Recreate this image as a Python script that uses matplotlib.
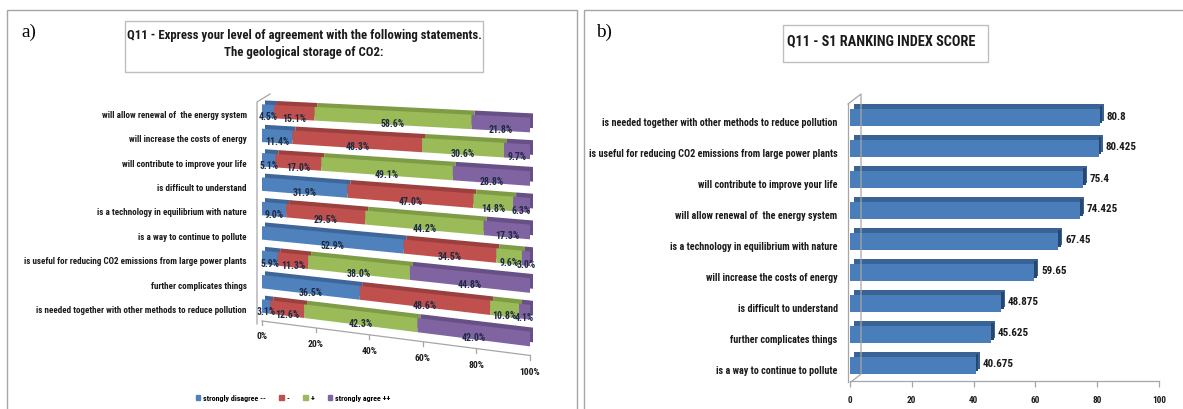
import numpy as np
import matplotlib
matplotlib.use("Agg")
import matplotlib.pyplot as plt
from matplotlib.transforms import Transform, Affine2D
from matplotlib.patches import Rectangle
from matplotlib.lines import Line2D

# ---------------- data ----------------
statements_a = [
    "will allow renewal of  the energy system",
    "will increase the costs of energy",
    "will contribute to improve your life",
    "is difficult to understand",
    "is a technology in equilibrium with nature",
    "is a way to continue to pollute",
    "is useful for reducing CO2 emissions from large power plants",
    "further complicates things",
    "is needed together with other methods to reduce pollution",
]
strongly_disagree = [4.5, 11.4, 5.1, 31.9, 9.0, 52.9, 5.9, 36.5, 3.1]
disagree = [15.1, 48.3, 17.0, 47.0, 29.5, 34.5, 11.3, 48.6, 12.6]
agree = [58.6, 30.6, 49.1, 14.8, 44.2, 9.6, 38.0, 10.8, 42.3]
strongly_agree = [21.8, 9.7, 28.8, 6.3, 17.3, 3.0, 44.8, 4.1, 42.0]
series_names = ["strongly disagree --", "-", "+", "strongly agree ++"]
pct_ticks = [0, 20, 40, 60, 80, 100]

statements_b = [
    "is needed together with other methods to reduce pollution",
    "is useful for reducing CO2 emissions from large power plants",
    "will contribute to improve your life",
    "will allow renewal of  the energy system",
    "is a technology in equilibrium with nature",
    "will increase the costs of energy",
    "is difficult to understand",
    "further complicates things",
    "is a way to continue to pollute",
]
ranking_scores = [80.8, 80.425, 75.4, 74.425, 67.45, 59.65, 48.875, 45.625, 40.675]
score_ticks = [0, 20, 40, 60, 80, 100]

title_a1 = "Q11 - Express your level of agreement with the following statements."
title_a2 = "The geological storage of CO2:"
title_b = "Q11 - S1 RANKING INDEX SCORE"

# ---------------- styling ----------------
W, H, DPI = 1183, 410, 100
plt.rcParams["font.family"] = ["Roboto Condensed", "Liberation Sans Narrow", "Liberation Sans", "DejaVu Sans"]
colors = ["#4F81BD", "#C0504D", "#9BBB59", "#8064A2"]
dark = ["#3F6699", "#9A403E", "#7E9B45", "#675085"]
txt = "#1A1A1A"
gridc = "#A6A6A6"
GROW = 1.08


class Persp(Transform):
    """Fake 3-D perspective in display space: rows slope down to the right."""
    input_dims = 2
    output_dims = 2
    is_separable = False
    has_inverse = False

    def __init__(self, x0, x1, ytop, ybot, dtop, dbot, height):
        super().__init__()
        self.p = (x0, x1, ytop, ybot, dtop, dbot, height)

    def transform_non_affine(self, values):
        x0, x1, ytop, ybot, dtop, dbot, h = self.p
        v = np.array(values, dtype=float, copy=True)
        X = v[..., 0]
        yi = h - v[..., 1]
        u = (X - x0) / (x1 - x0)
        drop = dtop + (yi - ytop) * (dbot - dtop) / (ybot - ytop)
        v[..., 1] = h - (yi + u * drop)
        return v


fig = plt.figure(figsize=(W / DPI, H / DPI), dpi=DPI)
renderer = fig.canvas.get_renderer()


def fit_size(s, target_px, weight="bold", family=None, grow=GROW):
    kw = {"fontsize": 10, "fontweight": weight}
    if family:
        kw["family"] = family
    t = fig.text(0, 0, s, **kw)
    w = t.get_window_extent(renderer).width
    t.remove()
    return grow * 10 * target_px / w


fs_lab_a = fit_size(statements_a[0], 142, grow=1.01)
fs_lab_b = fit_size(statements_b[1], 246, grow=1.01)
fs_title_a = fit_size(title_a1, 343, grow=1.03)
fs_title_b = fit_size(title_b, 182, grow=1.03)
fs_leg = fit_size(series_names[0], 58)
fs_dl = fit_size("58.6%", 22)
fs_val = fit_size("80.425", 30, grow=1.04)
fs_xb = fit_size("100", 13)
fs_xa = fit_size("100%", 19)
fs_ab = fit_size("a)", 15, weight="normal", family="Liberation Serif", grow=1.0)

pix = Affine2D().scale(1, -1).translate(0, H)  # image pixel coords -> display

# panel frames
fig.patches.append(Rectangle((7, 11), 570, 420, fill=False, ec=gridc, lw=1, transform=pix))
fig.patches.append(Rectangle((584, 11), 620, 420, fill=False, ec=gridc, lw=1, transform=pix))
fig.text(21, 32, "a)", transform=pix, family="Liberation Serif", fontsize=fs_ab, va="center", ha="left")
fig.text(596, 32, "b)", transform=pix, family="Liberation Serif", fontsize=fs_ab, va="center", ha="left")

# title boxes
fig.patches.append(Rectangle((125, 22), 358, 51, fill=False, ec="#BFBFBF", lw=1, transform=pix))
fig.text(304, 36, title_a1, transform=pix, ha="center", va="center", fontsize=fs_title_a,
         fontweight="bold", color=txt)
fig.text(304, 53, title_a2, transform=pix, ha="center", va="center", fontsize=fs_title_a,
         fontweight="bold", color=txt)
fig.patches.append(Rectangle((783, 26), 205, 37, fill=False, ec="#BFBFBF", lw=1, transform=pix))
fig.text(881, 41, title_b, transform=pix, ha="center", va="center", fontsize=fs_title_b,
         fontweight="bold", color=txt)

# ---------------- panel a ----------------
row_h = 24.375
axL = fig.add_axes([262 / W, (H - (307 + 0.5 * row_h)) / H, 268 / W, 9 * row_h / H])
ypos = np.arange(len(statements_a))[::-1]
persp = Persp(262, 530, 112, 307, 14, 33, H)
front_T = axL.transData + persp
shadow_T = axL.transData + Affine2D().translate(3, 4) + persp

series = [strongly_disagree, disagree, agree, strongly_agree]
left = np.zeros(len(ypos))
proxies = []
for vals, name, c, d in zip(series, series_names, colors, dark):
    vals = np.array(vals)
    sh = axL.barh(ypos, vals, left=left, height=0.55, color=d, edgecolor="none", zorder=1)
    for p in sh.patches:
        p.set_transform(shadow_T)
        p.set_clip_on(False)
    fr = axL.barh(ypos, vals, left=left, height=0.55, color=c, edgecolor="none", zorder=2)
    for p in fr.patches:
        p.set_transform(front_T)
        p.set_clip_on(False)
    for y, l, v in zip(ypos, left, vals):
        axL.text(l + v / 2, y - 0.2, f"{v:.1f}%", transform=front_T, ha="center", va="center",
                 fontsize=fs_dl, fontweight="bold", color="#1F2A44", zorder=5, clip_on=False)
    proxies.append(Rectangle((0, 0), 1, 1, color=c))
    left = left + vals
axL.set_xlim(0, 100)
axL.set_ylim(-0.5, 8.5)

axL.set_yticks(ypos - 0.1, statements_a, fontsize=fs_lab_a, fontweight="bold", color=txt)
axL.tick_params(axis="y", length=0, pad=11)
axL.set_xticks([])
for s in axL.spines.values():
    s.set_visible(False)
axL.patch.set_visible(False)

# walls / floor
fig.lines.append(Line2D([270, 257, 257], [95, 103, 325], color=gridc, lw=0.9, transform=pix))
yA = -0.5 - (322 - (307 + 0.5 * row_h)) / row_h
axL.plot([0, 100], [yA, yA], color=gridc, lw=0.9, transform=front_T, clip_on=False)
yL = -0.5 - (337 - (307 + 0.5 * row_h)) / row_h
for t in pct_ticks:
    axL.plot([t, t], [yA, yA - 0.17], color=gridc, lw=0.9, transform=front_T, clip_on=False)
    axL.text(t, yL, f"{t}%", transform=front_T, ha="center", va="center", fontsize=fs_xa,
             fontweight="bold", color=txt, clip_on=False)

fig.legend(proxies, series_names, loc="center", bbox_to_anchor=(293 / W, 1 - 399 / H), ncol=4,
           frameon=False, handlelength=0.6, handleheight=0.6, handletextpad=0.35,
           columnspacing=1.7, prop={"weight": "bold", "size": fs_leg})

# ---------------- panel b ----------------
axR = fig.add_axes([850 / W, (H - 382) / H, 309 / W, 279 / H])
yposR = np.arange(len(statements_b))[::-1]
shR = axR.barh(yposR, ranking_scores, height=0.55, color="#3A6395", edgecolor="none", zorder=1)
for p in shR.patches:
    p.set_transform(axR.transData + Affine2D().translate(4, 5))
    p.set_clip_on(False)
endR = axR.barh(yposR, [0.9] * len(yposR), left=ranking_scores, height=0.55, color="#27476F",
                edgecolor="none", zorder=1.5)
for p in endR.patches:
    p.set_transform(axR.transData + Affine2D().translate(0, 3))
    p.set_clip_on(False)
axR.barh(yposR, ranking_scores, height=0.55, color="#4A7EBB", edgecolor="none", zorder=2)
for y, v in zip(yposR, ranking_scores):
    axR.annotate(f"{v:g}", xy=(v, y), xytext=(7, 2), textcoords="offset pixels", ha="left",
                 va="center", fontsize=fs_val, fontweight="bold", color=txt, annotation_clip=False)
axR.set_xlim(0, 100)
axR.set_ylim(-0.5, 8.5)
axR.set_xticks(score_ticks)
axR.set_yticks(yposR - 0.1, statements_b, fontsize=fs_lab_b, fontweight="bold", color=txt)
axR.tick_params(axis="y", length=0, pad=9)
axR.tick_params(axis="x", length=4, width=0.9, color=gridc, pad=6, labelsize=fs_xb, labelcolor=txt)
for lab in axR.get_xticklabels():
    lab.set_fontweight("bold")
for k in ["top", "right", "left"]:
    axR.spines[k].set_visible(False)
axR.spines["bottom"].set_color(gridc)
axR.spines["bottom"].set_linewidth(0.9)
axR.patch.set_visible(False)
fig.lines.append(Line2D([848, 848], [105, 383], color=gridc, lw=0.9, transform=pix))
fig.lines.append(Line2D([848, 861, 861, 851], [105, 95, 375, 383], color=gridc, lw=0.9, transform=pix))

fig.savefig("out.png", dpi=DPI)
